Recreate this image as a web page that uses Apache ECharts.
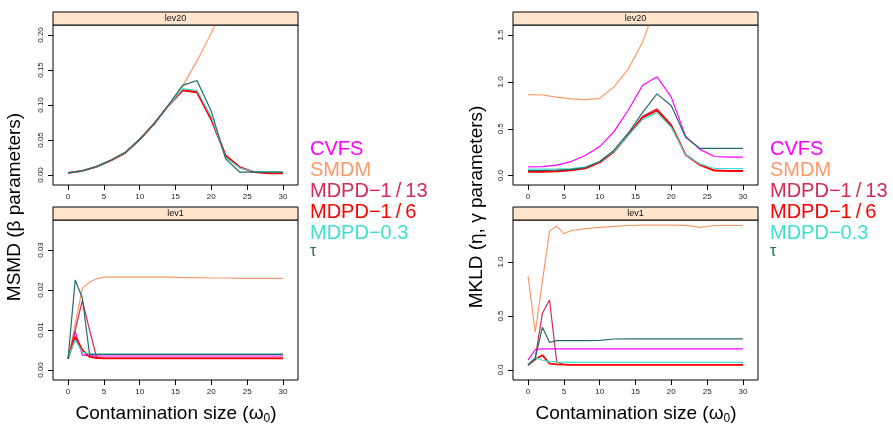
<!DOCTYPE html>
<html><head><meta charset="utf-8">
<script src="https://cdn.jsdelivr.net/npm/echarts@6/dist/echarts.min.js"></script>
<style>html,body{margin:0;padding:0;background:#fff}#c{width:893px;height:427px}</style>
</head><body><div id="c"></div>
<script>
// ---------- data ----------
const seriesNames = ["CVFS", "SMDM", "MDPD\u22121\u2009/\u200913", "MDPD\u22121\u2009/\u20096", "MDPD\u22120.3", "\u03c4"];
const seriesColors = ["#ff00ff", "#fa9a6a", "#d42a55", "#ff0000", "#40e0d0", "#236b6b"];
const panelTitles = ["lev20", "lev1"];
const xTop = [0,2,4,6,8,10,12,14,16,18,20,22,24,26,28,30];
const xBot = [0,1,2,3,4,5,6,8,10,12,14,16,18,20,22,24,26,28,30];
const xTicks = [0,5,10,15,20,25,30];

// MSMD, lev20
const cvfsTL = [0.003,0.006,0.012,0.021,0.032,0.051,0.073,0.099,0.121,0.118,0.079,0.027,0.011,0.004,0.003,0.003];
const smdmTL = [0.003,0.006,0.012,0.020,0.031,0.050,0.072,0.099,0.127,0.163,0.203,0.248,0.296,0.348,0.404,0.464];
const m13TL  = [0.003,0.006,0.012,0.021,0.032,0.051,0.073,0.099,0.122,0.119,0.080,0.027,0.011,0.004,0.003,0.003];
const m6TL   = [0.003,0.006,0.012,0.021,0.032,0.051,0.073,0.099,0.121,0.118,0.079,0.028,0.011,0.004,0.0025,0.0025];
const m03TL  = [0.003,0.006,0.012,0.021,0.032,0.051,0.073,0.099,0.123,0.121,0.083,0.025,0.010,0.005,0.0045,0.0045];
const tauTL  = [0.003,0.006,0.012,0.021,0.032,0.051,0.073,0.100,0.128,0.135,0.091,0.023,0.004,0.004,0.004,0.004];
// MSMD, lev1
const cvfsBL = [0.0030,0.0096,0.0037,0.0036,0.0035,0.0035,0.0035,0.0035,0.0035,0.0035,0.0035,0.0035,0.0035,0.0035,0.0035,0.0035,0.0035,0.0035,0.0035];
const smdmBL = [0.0028,0.0115,0.0204,0.0220,0.0228,0.0232,0.0232,0.0232,0.0232,0.0232,0.0232,0.0231,0.0231,0.0230,0.0230,0.0229,0.0229,0.0229,0.0229];
const m13BL  = [0.0028,0.0100,0.0174,0.0100,0.0031,0.0030,0.0030,0.0030,0.0030,0.0030,0.0030,0.0030,0.0030,0.0030,0.0030,0.0030,0.0030,0.0030,0.0030];
const m6BL   = [0.0028,0.0083,0.0050,0.0033,0.0030,0.0029,0.0029,0.0029,0.0029,0.0029,0.0029,0.0029,0.0029,0.0029,0.0029,0.0029,0.0029,0.0029,0.0029];
const m03BL  = [0.0030,0.0075,0.0045,0.0040,0.0040,0.0040,0.0040,0.0040,0.0040,0.0040,0.0040,0.0040,0.0040,0.0040,0.0040,0.0040,0.0040,0.0040,0.0040];
const tauBL  = [0.0028,0.0225,0.0180,0.0039,0.0039,0.0039,0.0039,0.0039,0.0039,0.0039,0.0039,0.0039,0.0039,0.0039,0.0039,0.0039,0.0039,0.0039,0.0039];
// MKLD, lev20
const cvfsTR = [0.093,0.097,0.112,0.150,0.215,0.310,0.470,0.700,0.965,1.055,0.835,0.418,0.280,0.204,0.198,0.198];
const smdmTR = [0.864,0.860,0.838,0.818,0.810,0.825,0.946,1.140,1.425,1.850,2.000,2.100,2.200,2.300,2.400,2.500];
const m13TR  = [0.044,0.045,0.048,0.058,0.081,0.143,0.260,0.442,0.632,0.712,0.543,0.225,0.117,0.058,0.053,0.053];
const m6TR   = [0.040,0.041,0.045,0.055,0.078,0.140,0.255,0.435,0.620,0.695,0.530,0.222,0.113,0.053,0.049,0.049];
const m03TR  = [0.070,0.070,0.071,0.074,0.092,0.150,0.262,0.430,0.600,0.672,0.515,0.222,0.125,0.076,0.075,0.075];
const tauTR  = [0.054,0.055,0.058,0.066,0.086,0.150,0.272,0.455,0.675,0.872,0.745,0.410,0.290,0.290,0.290,0.290];
// MKLD, lev1
const cvfsBR = [0.092,0.190,0.196,0.196,0.196,0.196,0.196,0.196,0.196,0.196,0.196,0.196,0.196,0.196,0.196,0.196,0.196,0.196,0.196];
const smdmBR = [0.870,0.347,0.818,1.288,1.333,1.262,1.292,1.310,1.320,1.330,1.338,1.342,1.342,1.342,1.340,1.320,1.338,1.340,1.338];
const m13BR  = [0.046,0.108,0.525,0.648,0.072,0.052,0.050,0.050,0.050,0.050,0.050,0.050,0.050,0.050,0.050,0.050,0.050,0.050,0.050];
const m6BR   = [0.046,0.100,0.137,0.060,0.052,0.050,0.048,0.048,0.048,0.048,0.048,0.048,0.048,0.048,0.048,0.048,0.048,0.048,0.048];
const m03BR  = [0.056,0.114,0.090,0.080,0.075,0.072,0.070,0.070,0.070,0.070,0.070,0.070,0.070,0.070,0.070,0.070,0.070,0.070,0.070];
const tauBR  = [0.046,0.108,0.395,0.256,0.272,0.272,0.272,0.272,0.274,0.287,0.288,0.288,0.288,0.288,0.288,0.288,0.288,0.288,0.288];

const yTicksTL = [0,0.05,0.10,0.15,0.20];
const yTicksBL = [0,0.01,0.02,0.03];
const yTicksTR = [0,0.5,1.0,1.5];
const yTicksBR = [0,0.5,1.0];

// ---------- layout ----------
const FONT = "Liberation Sans, Arial, Helvetica, sans-serif";
const panels = [
  {left:53, top:25, x:xTop, sets:[cvfsTL,smdmTL,m13TL,m6TL,m03TL,tauTL], ymin:-0.0143, ymax:0.2143, ticks:yTicksTL, dec:2, title:panelTitles[0]},
  {left:53, top:220, x:xBot, sets:[cvfsBL,smdmBL,m13BL,m6BL,m03BL,tauBL], ymin:-0.0025, ymax:0.0375, ticks:yTicksBL, dec:2, title:panelTitles[1]},
  {left:513, top:25, x:xTop, sets:[cvfsTR,smdmTR,m13TR,m6TR,m03TR,tauTR], ymin:-0.100, ymax:1.607, ticks:yTicksTR, dec:1, title:panelTitles[0]},
  {left:513, top:220, x:xBot, sets:[cvfsBR,smdmBR,m13BR,m6BR,m03BR,tauBR], ymin:-0.0926, ymax:1.389, ticks:yTicksBR, dec:1, title:panelTitles[1]}
];
const PW = 245, PH = 160, SH = 13;

const grids = [], xAxes = [], yAxes = [], series = [], graphics = [];
panels.forEach((p, gi) => {
  grids.push({left:p.left, top:p.top, width:PW, height:PH, show:true, borderColor:'#000', borderWidth:1, backgroundColor:'transparent'});
  xAxes.push({type:'value', gridIndex:gi, min:-2.1, max:32.1, position:'bottom',
    axisLine:{show:false, onZero:false}, splitLine:{show:false},
    axisTick:{show:true, length:5, lineStyle:{color:'#000'}, customValues:xTicks},
    axisLabel:{show:true, fontSize:8, color:'#222', fontFamily:FONT, margin:8, customValues:xTicks}});
  yAxes.push({type:'value', gridIndex:gi, min:p.ymin, max:p.ymax, position:'left',
    axisLine:{show:false, onZero:false}, splitLine:{show:false},
    axisTick:{show:true, length:5, lineStyle:{color:'#000'}, customValues:p.ticks},
    axisLabel:{show:true, fontSize:8, color:'#222', fontFamily:FONT, rotate:90, margin:8, customValues:p.ticks,
      formatter: v => v.toFixed(p.dec)}});
  p.sets.forEach((ys, si) => {
    series.push({type:'line', name:seriesNames[si], xAxisIndex:gi, yAxisIndex:gi,
      data:p.x.map((x, i) => [x, ys[i]]), showSymbol:false, symbol:'none', clip:true,
      lineStyle:{color:seriesColors[si], width: si===3 ? 1.8 : 1.2}, itemStyle:{color:seriesColors[si]},
      z: 2 + si, animation:false});
  });
  graphics.push({type:'rect', shape:{x:p.left, y:p.top - SH, width:PW, height:SH},
    style:{fill:'#ffe5cc', stroke:'#000', lineWidth:1}, z:10});
  graphics.push({type:'text', x:p.left + PW/2, y:p.top - SH/2, z:11,
    style:{text:p.title, fontSize:9, fontFamily:FONT, fill:'#111', align:'center', verticalAlign:'middle'}});
});

// axis titles
graphics.push({type:'text', x:15, y:207, rotation:Math.PI/2, z:11,
  style:{text:'MSMD (\u03b2 parameters)', fontSize:19, fontFamily:FONT, fill:'#000', align:'center', verticalAlign:'middle'}});
graphics.push({type:'text', x:477, y:207, rotation:Math.PI/2, z:11,
  style:{text:'MKLD (\u03b7, \u03b3 parameters)', fontSize:19, fontFamily:FONT, fill:'#000', align:'center', verticalAlign:'middle'}});
[176, 636].forEach(cx => {
  graphics.push({type:'text', x:cx, y:414, z:11,
    style:{text:'Contamination size (\u03c9{s|0})', fontSize:19, fontFamily:FONT, fill:'#000', align:'center', verticalAlign:'middle',
      rich:{s:{fontSize:12, fontFamily:FONT, fill:'#000', padding:[10,0,0,0]}}}});
});

const legendData = seriesNames.map((n, i) => ({name:n,
  textStyle: i===5 ? {color:seriesColors[i], fontSize:16, lineHeight:16, fontFamily:FONT, verticalAlign:'bottom', padding:[0,0,0,-5]}
                   : {color:seriesColors[i], fontSize:20, lineHeight:20, fontFamily:FONT, padding:[0,0,0,-5]}}));
const mkLegend = left => ({orient:'vertical', left:left, top:134, itemWidth:0, itemHeight:0, itemGap:1,
  selectedMode:false, icon:'rect', textStyle:{fontSize:20, fontFamily:FONT, lineHeight:20, padding:[0,0,0,-5]}, data:legendData});

const option = {
  animation:false,
  backgroundColor:'#fff',
  grid:grids, xAxis:xAxes, yAxis:yAxes, series:series,
  legend:[mkLegend(305), mkLegend(765)],
  graphic:graphics
};
const chart = echarts.init(document.getElementById('c'), null, {renderer:'canvas'});
chart.setOption(option);
</script></body></html>
